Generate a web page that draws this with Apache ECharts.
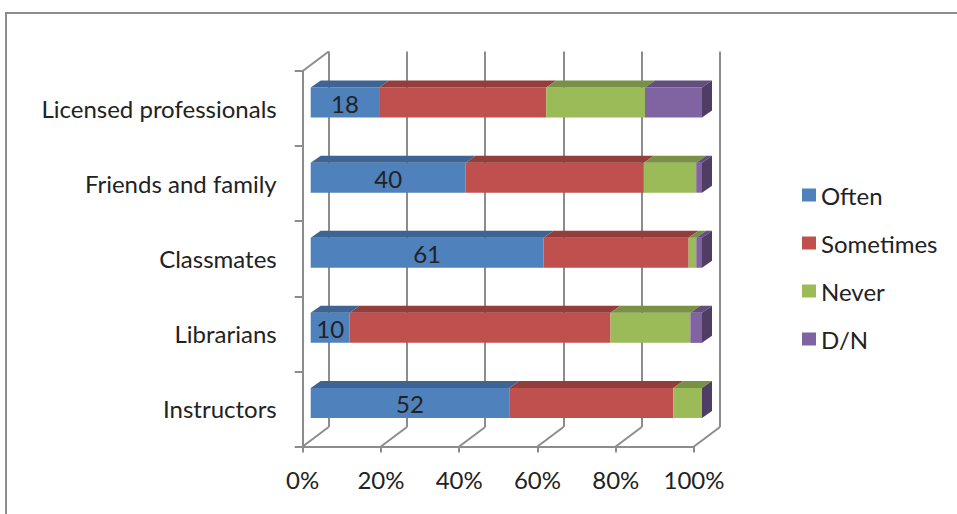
<!DOCTYPE html>
<html>
<head>
<meta charset="utf-8">
<script src="https://cdn.jsdelivr.net/npm/echarts@6/dist/echarts.min.js"></script>
<style>
html,body{margin:0;padding:0;background:#fff;}
#chart{position:absolute;left:0;top:0;width:957px;height:514px;}
#frame{position:absolute;left:5px;top:12px;width:1000px;height:600px;border-left:2px solid #8c8c8c;border-top:2px solid #8c8c8c;box-sizing:border-box;pointer-events:none;}
</style>
</head>
<body>
<div id="chart"></div>
<div id="frame"></div>
<script>
// ---- data (bottom to top) ----
const categories = ['Instructors', 'Librarians', 'Classmates', 'Friends and family', 'Licensed professionals'];
const seriesNames = ['Often', 'Sometimes', 'Never', 'D/N'];
const often     = [52, 10, 61, 40, 18];
const sometimes = [43, 67, 38, 46, 44];
const never     = [7.5, 20.5, 2, 13.5, 26];
const dn        = [0, 3, 1.5, 1.5, 15];
const xTicks    = [0, 20, 40, 60, 80, 100];

// ---- styles ----
const FONT = 'Lato, "Open Sans", sans-serif';
const FS = 24;
const TEXT = '#222222';
const GRIDC = '#8c8c8c';
const frontColors = ['#4F81BD', '#C0504D', '#9BBB59', '#8064A2'];
const topColors   = ['#3D6493', '#943E3B', '#789145', '#634E7E'];
const sideColor   = '#4F3D66';
// 3D projection offsets (px)
const DEPTH_X = 26, DEPTH_Y = -19.5;     // wall depth
const BAR_OFF_X = 8, BAR_OFF_Y = -6;     // bar front plane offset
const BAR_D_X = 10, BAR_D_Y = -7;        // bar depth
const BAR_RATIO = 0.4;

const raw = [often, sometimes, never, dn];
const totals = categories.map((c, i) => raw.reduce((s, arr) => s + arr[i], 0));
const starts = [], ends = [];
raw.forEach((arr, k) => {
  starts.push(arr.map((v, i) => k === 0 ? 0 : ends[k - 1][i]));
  ends.push(arr.map((v, i) => starts[k][i] + v / totals[i] * 100));
});

function barSeries(k) {
  return {
    type: 'custom',
    name: seriesNames[k],
    xAxisIndex: 0, yAxisIndex: 0,
    itemStyle: { color: frontColors[k] },
    encode: { x: [1, 2], y: 0 },
    data: categories.map((c, i) => [i, starts[k][i], ends[k][i], raw[k][i]]),
    z: 10 + k,
    renderItem: function (params, api) {
      const ci = api.value(0);
      const p0 = api.coord([api.value(1), ci]);
      const p1 = api.coord([api.value(2), ci]);
      const band = api.size([0, 1])[1];
      const h = band * BAR_RATIO;
      const x0 = p0[0] + BAR_OFF_X, x1 = p1[0] + BAR_OFF_X;
      const yc = p0[1] + BAR_OFF_Y;
      const yt = yc - h / 2, yb = yc + h / 2;
      const children = [];
      if (x1 - x0 > 0.01) {
        children.push({ type: 'rect', shape: { x: x0, y: yt, width: x1 - x0, height: h },
          style: { fill: frontColors[k] } });
        children.push({ type: 'polygon', shape: { points: [[x0, yt], [x1, yt], [x1 + BAR_D_X, yt + BAR_D_Y], [x0 + BAR_D_X, yt + BAR_D_Y]] },
          style: { fill: topColors[k] } });
      }
      if (k === raw.length - 1) {
        children.push({ type: 'polygon', shape: { points: [[x1, yt], [x1 + BAR_D_X, yt + BAR_D_Y], [x1 + BAR_D_X, yb + BAR_D_Y], [x1, yb]] },
          style: { fill: sideColor } });
      }
      if (k === 0) {
        children.push({ type: 'text', style: { text: String(api.value(3)), x: (x0 + x1) / 2, y: yc + 1,
          align: 'center', verticalAlign: 'middle', fontSize: FS, fontFamily: FONT, fill: TEXT } });
      }
      return { type: 'group', children: children };
    }
  };
}

const wallSeries = {
  type: 'custom',
  name: 'walls',
  xAxisIndex: 0, yAxisIndex: 0,
  silent: true,
  z: 1,
  data: xTicks.map(v => [v]),
  encode: { x: 0 },
  renderItem: function (params, api) {
    const cs = params.coordSys;
    const x = api.coord([api.value(0), 0])[0];
    const yB = cs.y + cs.height;
    const lineStyle = { stroke: GRIDC, lineWidth: 2 };
    const children = [{ type: 'line', shape: { x1: x, y1: yB, x2: x + DEPTH_X, y2: yB + DEPTH_Y }, style: lineStyle }];
    if (params.dataIndex === 0) {
      children.push({ type: 'line', shape: { x1: x, y1: cs.y, x2: x + DEPTH_X, y2: cs.y + DEPTH_Y }, style: lineStyle });
    }
    return { type: 'group', children: children };
  }
};

const chart = echarts.init(document.getElementById('chart'), null, { renderer: 'svg' });
const FRONT = { left: 302.7, top: 71, width: 391.3, height: 375.5 };
chart.setOption({
  animation: false,
  backgroundColor: '#fff',
  textStyle: { fontFamily: FONT },
  grid: [
    { left: FRONT.left, top: FRONT.top, width: FRONT.width, height: FRONT.height, containLabel: false },
    { left: FRONT.left + DEPTH_X, top: FRONT.top + DEPTH_Y, width: FRONT.width, height: FRONT.height, containLabel: false }
  ],
  xAxis: [
    { type: 'value', gridIndex: 0, min: 0, max: 100, interval: 20,
      axisLine: { show: true, lineStyle: { color: GRIDC, width: 2 } },
      axisTick: { show: true, length: 6, lineStyle: { color: GRIDC, width: 2 } },
      splitLine: { show: false },
      axisLabel: { formatter: '{value}%', fontSize: FS, fontFamily: FONT, color: TEXT, margin: 21 } },
    { type: 'value', gridIndex: 1, min: 0, max: 100, interval: 20,
      axisLine: { show: false }, axisTick: { show: false }, axisLabel: { show: false },
      splitLine: { show: true, lineStyle: { color: GRIDC, width: 2 } } }
  ],
  yAxis: [
    { type: 'category', gridIndex: 0, data: categories,
      axisLine: { show: true, lineStyle: { color: GRIDC, width: 2 } },
      axisTick: { show: true, length: 8, lineStyle: { color: GRIDC, width: 2 } },
      axisLabel: { fontSize: FS, fontFamily: FONT, color: TEXT, margin: 26 } },
    { type: 'category', gridIndex: 1, data: categories, show: false }
  ],
  legend: {
    data: seriesNames,
    orient: 'vertical',
    left: 797, top: 177,
    icon: 'rect',
    itemWidth: 14, itemHeight: 13,
    itemGap: 22,
    textStyle: { fontSize: FS, fontFamily: FONT, color: TEXT, lineHeight: 26 }
  },
  series: [wallSeries, barSeries(0), barSeries(1), barSeries(2), barSeries(3)]
});
</script>
</body>
</html>
